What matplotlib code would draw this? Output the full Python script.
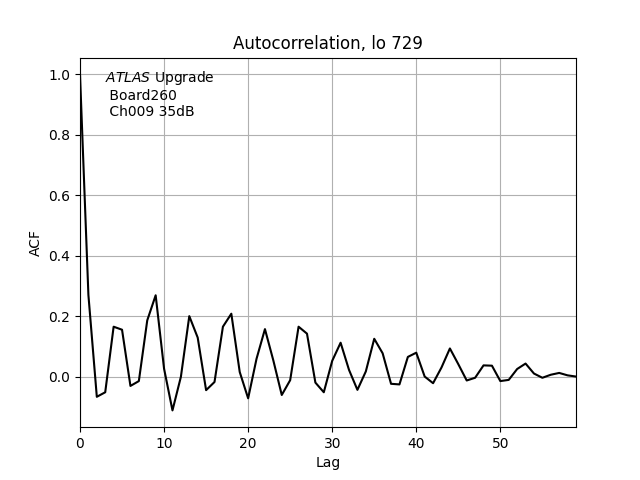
import matplotlib
matplotlib.use('Agg')
import matplotlib.pyplot as plt
import numpy as np

# ACF values, lags 0..59
lags = np.arange(60)
acf = [1.0, 0.27, -0.067, -0.052, 0.165, 0.155, -0.031, -0.015, 0.186, 0.269,
       0.026, -0.112, -0.001, 0.200, 0.129, -0.045, -0.018, 0.165, 0.208, 0.015,
       -0.072, 0.059, 0.157, 0.053, -0.061, -0.012, 0.165, 0.142, -0.020, -0.052,
       0.052, 0.112, 0.022, -0.044, 0.017, 0.125, 0.077, -0.024, -0.026, 0.065,
       0.079, 0.000, -0.022, 0.030, 0.093, 0.041, -0.013, -0.004, 0.037, 0.036,
       -0.015, -0.011, 0.025, 0.043, 0.010, -0.004, 0.006, 0.012, 0.004, 0.000]

title = 'Autocorrelation, lo 729'
label = r'$\it{ATLAS}$ Upgrade' + '\n Board260\n Ch009 35dB'

fig, ax = plt.subplots(figsize=(6.4, 4.8), dpi=100)
ax.plot(lags, acf, color='black')
ax.set_xlim(0, lags[-1])
ax.set_title(title)
ax.set_xlabel('Lag')
ax.set_ylabel('ACF')
ax.grid(True)
ax.text(0.05, 0.97, label, transform=ax.transAxes, va='top', ha='left')

fig.savefig('out.png')
